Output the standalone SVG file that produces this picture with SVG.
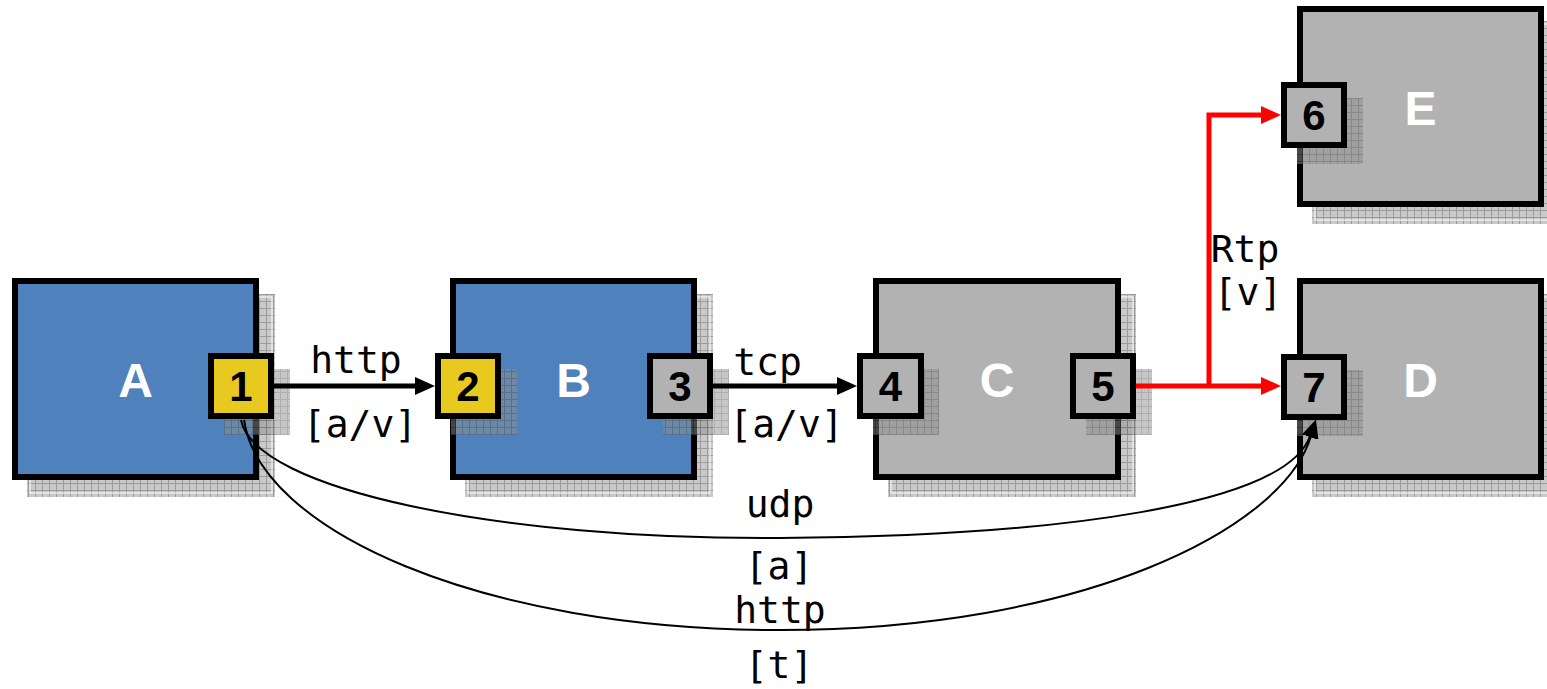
<svg xmlns="http://www.w3.org/2000/svg" width="1547" height="689" viewBox="0 0 1547 689">
<defs>
<pattern id="hatch" width="7" height="7" patternUnits="userSpaceOnUse">
<rect width="7" height="7" fill="#C9C9C9"/>
<path d="M0,0.5H7M0.5,0V7" stroke="#9C9C9C" stroke-width="1"/>
</pattern>
<pattern id="hatchDark" width="7" height="7" patternUnits="userSpaceOnUse">
<rect width="7" height="7" fill="#8E8E8E"/>
<path d="M0,0.5H7M0.5,0V7" stroke="#5E5E5E" stroke-width="1"/>
</pattern>
<marker id="arrBlk" viewBox="0 0 20 18" markerWidth="20" markerHeight="18" markerUnits="userSpaceOnUse" refX="2" refY="9" orient="auto">
<path d="M0,0 L20,9 L0,18 z" fill="#000"/>
</marker>
<marker id="arrRed" viewBox="0 0 20 18" markerWidth="20" markerHeight="18" markerUnits="userSpaceOnUse" refX="2" refY="9" orient="auto">
<path d="M0,0 L20,9 L0,18 z" fill="#FF0000"/>
</marker>
<marker id="arrThin" viewBox="0 0 18 16" markerWidth="18" markerHeight="16" markerUnits="userSpaceOnUse" refX="1" refY="8" orient="auto">
<path d="M0,0 L18,8 L0,16 z" fill="#000"/>
</marker>
</defs>
<style>
.shadow{fill:url(#hatch)}
.shline{fill:none;stroke:#fff;stroke-width:1}
.pshadow{fill:url(#hatchDark);opacity:0.5}
.blue{fill:#4F81BD;stroke:#000;stroke-width:6}
.gray{fill:#B2B2B2;stroke:#000;stroke-width:6}
.pyel{fill:#E8C920;stroke:#000;stroke-width:6}
.pgray{fill:#B2B2B2;stroke:#000;stroke-width:6}
.nlabel{font-family:"Liberation Sans",Arial,sans-serif;font-weight:bold;font-size:48px;fill:#fff;text-anchor:middle}
.plabel{font-family:"Liberation Sans",Arial,sans-serif;font-weight:bold;font-size:42px;fill:#000;text-anchor:middle}
.elabel{font-family:"DejaVu Sans Mono",monospace;font-size:38px;fill:#000;text-anchor:middle}
.cblk{fill:none;stroke:#000;stroke-width:5}
.cred{fill:none;stroke:#FF0000;stroke-width:5}
.cthin{fill:none;stroke:#000;stroke-width:2}
</style>

<g id="node-A">
<rect class="shadow" x="27" y="294" width="248" height="203"/>
<rect class="shline" x="30" y="297" width="242" height="196"/>
<rect class="blue" x="15" y="281" width="241" height="196"/>
<text class="nlabel" x="135.5" y="397">A</text>
<g id="port-1">
<rect class="pshadow" x="224" y="369" width="66" height="66"/>
<rect class="pyel" x="211" y="356" width="60" height="60"/>
<text class="plabel" x="241" y="401">1</text>
</g>
</g>

<g id="node-B">
<rect class="shadow" x="465" y="294" width="248" height="203"/>
<rect class="shline" x="468" y="297" width="242" height="196"/>
<rect class="blue" x="453" y="281" width="241" height="196"/>
<text class="nlabel" x="573.5" y="397">B</text>
<g id="port-2">
<rect class="pshadow" x="451" y="369" width="66" height="66"/>
<rect class="pyel" x="438" y="356" width="60" height="60"/>
<text class="plabel" x="468" y="401">2</text>
</g>
<g id="port-3">
<rect class="pshadow" x="663" y="369" width="66" height="66"/>
<rect class="pgray" x="650" y="356" width="60" height="60"/>
<text class="plabel" x="680" y="401">3</text>
</g>
</g>

<g id="node-C">
<rect class="shadow" x="888" y="294" width="248" height="203"/>
<rect class="shline" x="891" y="297" width="242" height="196"/>
<rect class="gray" x="876" y="281" width="242" height="196"/>
<text class="nlabel" x="997" y="397">C</text>
<g id="port-4">
<rect class="pshadow" x="873" y="369" width="66" height="66"/>
<rect class="pgray" x="860" y="356" width="61" height="60"/>
<text class="plabel" x="890.5" y="401">4</text>
</g>
<g id="port-5">
<rect class="pshadow" x="1086" y="369" width="66" height="66"/>
<rect class="pgray" x="1073" y="356" width="60" height="60"/>
<text class="plabel" x="1103" y="401">5</text>
</g>
</g>

<g id="node-E">
<rect class="shadow" x="1312" y="21" width="235" height="203"/>
<rect class="shline" x="1315" y="24" width="240" height="196"/>
<rect class="gray" x="1300" y="9" width="241" height="195"/>
<text class="nlabel" x="1420.5" y="125">E</text>
<g id="port-6">
<rect class="pshadow" x="1297" y="98" width="66" height="66"/>
<rect class="pgray" x="1284" y="85" width="60" height="60"/>
<text class="plabel" x="1314" y="130">6</text>
</g>
</g>

<g id="node-D">
<rect class="shadow" x="1312" y="294" width="235" height="203"/>
<rect class="shline" x="1315" y="297" width="240" height="196"/>
<rect class="gray" x="1300" y="281" width="241" height="196"/>
<text class="nlabel" x="1420.5" y="397">D</text>
<g id="port-7">
<rect class="pshadow" x="1297" y="370" width="66" height="66"/>
<rect class="pgray" x="1284" y="357" width="60" height="60"/>
<text class="plabel" x="1314" y="402">7</text>
</g>
</g>

<g id="connectors">
<path class="cblk" d="M274,386 L417,386" marker-end="url(#arrBlk)"/>
<path class="cblk" d="M713,386 L839,386" marker-end="url(#arrBlk)"/>
<path class="cred" d="M1136,386 L1263,386" marker-end="url(#arrRed)"/>
<path class="cred" d="M1209,386 L1209,115 L1263,115" marker-end="url(#arrRed)"/>
<path class="cthin" d="M241,420 C255,490 500,540 780,538 C1060,536 1286,505 1310,436" marker-end="url(#arrThin)"/>
<path class="cthin" d="M244,420 C260,530 480,630 780,630 C1080,630 1283,530 1311,436" marker-end="url(#arrThin)"/>
<text class="elabel" x="356" y="373">http</text>
<text class="elabel" x="360" y="437">[a/v]</text>
<text class="elabel" x="767.5" y="375">tcp</text>
<text class="elabel" x="786.5" y="437">[a/v]</text>
<text class="elabel" x="1245" y="262">Rtp</text>
<text class="elabel" x="1248" y="305">[v]</text>
<text class="elabel" x="780" y="517">udp</text>
<text class="elabel" x="779" y="579">[a]</text>
<text class="elabel" x="780" y="623">http</text>
<text class="elabel" x="779" y="678">[t]</text>
</g>
</svg>
